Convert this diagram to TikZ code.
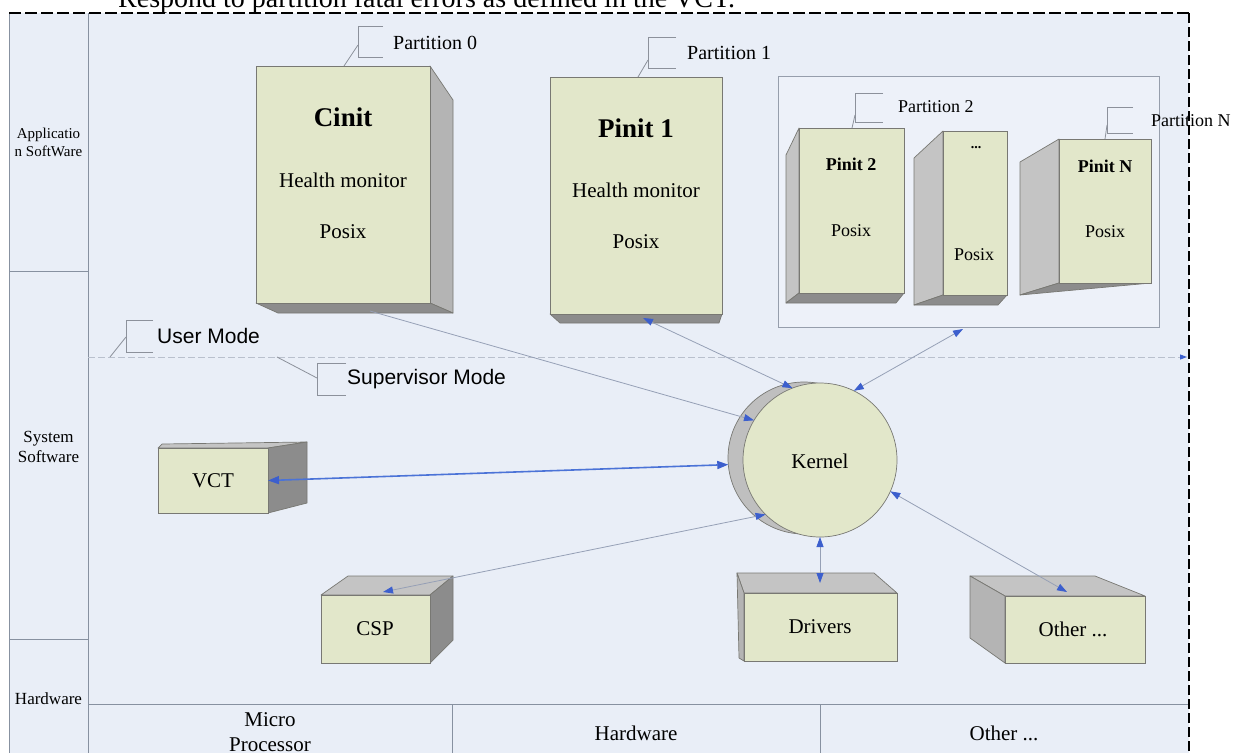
\documentclass[tikz,border=0pt]{standalone}
\usepackage{fontspec}
\setmainfont{Liberation Serif}
\newfontfamily\sansfam{Liberation Sans}
\usetikzlibrary{arrows.meta}
\newcommand\sz[1]{\fontsize{#1}{#1}\selectfont}
\definecolor{bg}{RGB}{233,238,247}
\definecolor{grpfill}{RGB}{237,241,249}
\definecolor{grpedge}{RGB}{150,158,172}
\definecolor{face}{RGB}{226,231,202}
\definecolor{sideg}{RGB}{180,180,180}
\definecolor{darkg}{RGB}{140,140,140}
\definecolor{topg}{RGB}{196,196,196}
\definecolor{edge}{RGB}{120,120,115}
\definecolor{frameg}{RGB}{135,145,160}
\definecolor{brkg}{RGB}{140,145,155}
\definecolor{lineg}{RGB}{150,160,182}
\definecolor{tipblue}{RGB}{60,95,205}
\definecolor{vctblue}{RGB}{75,115,215}
\definecolor{modeg}{RGB}{185,192,205}
\begin{document}
\begin{tikzpicture}[x=1pt,y=-1pt,
  front/.style={rectangle,draw=edge,line width=0.7pt,fill=face,inner sep=0pt,outer sep=0pt},
  sidef/.style={draw=edge,line width=0.7pt,fill=sideg,line join=round},
  darkf/.style={draw=edge,line width=0.7pt,fill=darkg,line join=round},
  topf/.style={draw=edge,line width=0.7pt,fill=topg,line join=round},
  frame/.style={draw=frameg,line width=0.8pt},
  brk/.style={draw=brkg,line width=0.8pt},
  lbl/.style={font=\sz{21},inner sep=0pt},
  slbl/.style={font=\sz{18},inner sep=0pt},
  plbl/.style={font=\sz{20},inner sep=0pt,anchor=west},
  conn/.style={draw=lineg,line width=0.8pt,>={Triangle[length=10pt,width=7pt,color=tipblue]}},
  vctline/.style={draw=vctblue,line width=1.6pt,>={Triangle[length=11pt,width=8pt,color=tipblue]}},
  modeline/.style={draw=modeg,line width=0.9pt,dash pattern=on 7pt off 3pt,>={Triangle[length=7pt,width=5pt,color=tipblue]}},
]
\useasboundingbox (0,0) rectangle (1233,753);
\clip (0,0) rectangle (1233,753);

% background and frame
\fill[bg] (9,13) rectangle (1189,753);
\draw[frame] (9,13) -- (9,753);
\draw[frame] (88,13) -- (88,753);
\draw[frame] (9,271) -- (88,271);
\draw[frame] (9,639) -- (88,639);
\draw[frame] (88,704) -- (1189,704);
\draw[frame] (452,704) -- (452,753);
\draw[frame] (820,704) -- (820,753);
\draw[black,line width=2pt,dash pattern=on 12pt off 4pt] (9,13) -- (1189,13);
\draw[black,line width=1.4pt,dash pattern=on 10pt off 4pt] (1189,13) -- (1189,753);

% top cut text
\node[font=\sz{28},anchor=base west,inner sep=0pt] (resp) at (118,7) {Respond to partition fatal errors as defined in the VCT.};

% left column labels
\node[font=\fontsize{15}{18}\selectfont,align=center,inner sep=0pt] (lapp) at (48.5,142) {Applicatio\\n SoftWare};
\node[font=\fontsize{17}{20}\selectfont,align=center,inner sep=0pt] (lsys) at (48.5,447) {System\\Software};
\node[font=\sz{17},inner sep=0pt] (lhw) at (48.5,699) {Hardware};

% bottom row labels
\node[font=\fontsize{21}{25}\selectfont,align=center,inner sep=0pt] (bmp) at (270,732) {Micro\\Processor};
\node[lbl] (bhw) at (636,733) {Hardware};
\node[lbl] (bot) at (1004,733) {Other ...};

% mode boundary
\coordinate (um0) at (88,357);
\coordinate (um1) at (1187,357);
\draw[modeline,->] (um0) -- (um1);

% User Mode callout
\draw[brk] (153,320) -- (126,320) -- (126,352) -- (153,352);
\draw[brk] (126,337) -- (110,357);
\node[font=\sansfam\sz{21},anchor=west,inner sep=0pt] (umode) at (157,336) {User Mode};
% Supervisor Mode callout
\draw[brk] (346,363) -- (317,363) -- (317,395) -- (346,395);
\draw[brk] (317,378) -- (277,357);
\node[font=\sansfam\sz{21},anchor=west,inner sep=0pt] (smode) at (347,379) {Supervisor Mode};

% Cinit
\draw[sidef] (430,66) -- (453,100) -- (453,313) -- (430,303) -- cycle;
\draw[darkf] (256,303) -- (430,303) -- (453,313) -- (278,313) -- cycle;
\node[front,minimum width=174pt,minimum height=237pt] (cinit) at (343,184.5) {};
\node[font=\sz{27}\bfseries,inner sep=0pt] (cinitT) at (343,117) {Cinit};
\node[lbl] (cinitH) at (343,180) {Health monitor};
\node[lbl] (cinitP) at (343,232) {Posix};
\draw[brk] (383,26) -- (358,26) -- (358,57) -- (383,57);
\draw[brk] (358,45) -- (344,66);
\node[plbl] (p0) at (393,43) {Partition 0};

% Pinit 1
\draw[darkf] (550,314) -- (722,314) -- (719,323) -- (560,323) -- cycle;
\node[front,minimum width=172pt,minimum height=237pt] (pinit1) at (636,195.5) {};
\node[font=\sz{27}\bfseries,inner sep=0pt] (p1T) at (636,128) {Pinit 1};
\node[lbl] (p1H) at (636,190) {Health monitor};
\node[lbl] (p1P) at (636,242) {Posix};
\draw[brk] (676,37) -- (648,37) -- (648,68) -- (676,68);
\draw[brk] (648,60) -- (638,77);
\node[plbl] (p1) at (687,53) {Partition 1};

% partition group
\node[draw=grpedge,fill=grpfill,line width=0.8pt,minimum width=381pt,minimum height=251pt,inner sep=0pt,outer sep=0pt] (grp) at (968.5,201.5) {};

% Pinit 2
\draw[topf] (799,128) -- (786,155) -- (786,303) -- (799,293) -- cycle;
\draw[darkf] (786,303) -- (799,293) -- (904,293) -- (896,303) -- cycle;
\node[front,minimum width=105pt,minimum height=165pt] (pinit2) at (851.5,210.5) {};
\node[font=\sz{18}\bfseries,inner sep=0pt] (p2T) at (851,164) {Pinit 2};
\node[slbl] (p2P) at (851,231) {Posix};
\draw[brk] (883,93) -- (855,93) -- (855,122) -- (883,122);
\draw[brk] (855,115) -- (852,128);
\node[plbl,font=\sz{18}] (p2) at (898,107) {Partition 2};

% dots partition
\draw[topf] (943,131) -- (914,158) -- (914,305) -- (943,295) -- cycle;
\draw[darkf] (914,305) -- (943,295) -- (1007,295) -- (998,305) -- cycle;
\node[front,minimum width=64pt,minimum height=164pt] (pdots) at (975,213) {};
\node[font=\sz{14}\bfseries,inner sep=0pt] (pdT) at (976,148) {...};
\node[slbl] (pdP) at (974,255) {Posix};

% Pinit N
\draw[topf] (1059,139) -- (1020,162) -- (1020,295) -- (1059,283) -- cycle;
\draw[darkf] (1020,295) -- (1059,283) -- (1151,283) -- cycle;
\node[front,minimum width=92pt,minimum height=144pt] (pinitN) at (1105,211) {};
\node[font=\sz{18}\bfseries,inner sep=0pt] (pNT) at (1105,166) {Pinit N};
\node[slbl] (pNP) at (1105,232) {Posix};
\draw[brk] (1133,107) -- (1107,107) -- (1107,133) -- (1133,133);
\draw[brk] (1107,125) -- (1105,139);
\node[plbl,font=\sz{18}] (pN) at (1151,121) {Partition N};

% VCT
\draw[topf] (158,448) -- (162,444) -- (307,442) -- (268,448) -- cycle;
\draw[darkf] (268,448) -- (307,442) -- (307,503) -- (268,513) -- cycle;
\node[front,minimum width=110pt,minimum height=65pt] (vct) at (213,480.5) {};
\node[lbl] (vctT) at (213,481) {VCT};

% CSP
\draw[topf] (321,595) -- (348,576) -- (453,576) -- (430,595) -- cycle;
\draw[darkf] (430,595) -- (453,576) -- (453,640) -- (430,663) -- cycle;
\node[front,minimum width=109pt,minimum height=68pt] (csp) at (375.5,629) {};
\node[lbl] (cspT) at (375,629) {CSP};

% Drivers
\draw[topf] (744,593) -- (737,573) -- (874,573) -- (897,593) -- cycle;
\draw[sidef] (737,573) -- (744,593) -- (744,661) -- (739,658) -- cycle;
\node[front,minimum width=153pt,minimum height=68pt] (drv) at (820.5,627) {};
\node[lbl] (drvT) at (820,627) {Drivers};

% Other
\draw[topf] (970,576) -- (1095,576) -- (1145,596) -- (1005,596) -- cycle;
\draw[sidef] (970,576) -- (1005,596) -- (1005,663) -- (970,638) -- cycle;
\node[front,minimum width=140pt,minimum height=67pt] (oth) at (1075,629.5) {};
\node[lbl] (othT) at (1073,629) {Other ...};

% Kernel
\node[circle,draw=edge,line width=0.7pt,fill=sideg!85!white,minimum size=152pt,inner sep=0pt,outer sep=0pt] (kback) at (804,458) {};
\node[circle,draw=edge,line width=0.7pt,fill=face,minimum size=154pt,inner sep=0pt,outer sep=0pt] (kernel) at (820,460) {};
\node[lbl] (kT) at (820,461) {Kernel};

% connector end points
\coordinate (c0) at (370,311);
\coordinate (p1a) at (643,318);
\coordinate (grpa) at (963,329);
\coordinate (cspa) at (383,592);
\coordinate (drva) at (820,583);
\coordinate (otha) at (1067,592);

% connectors
\draw[conn,->] (c0) -- (kernel.149);
\draw[conn,<->] (p1a) -- (kernel.111);
\draw[conn,<->] (grpa) -- (kernel.64);
\draw[vctline,<->] (vct.east) -- (kback.185);
\draw[conn,<->] (cspa) -- (kernel.225);
\draw[conn,<->] (drva) -- (kernel.south);
\draw[conn,<->] (otha) -- (kernel.336);
\end{tikzpicture}
\end{document}
